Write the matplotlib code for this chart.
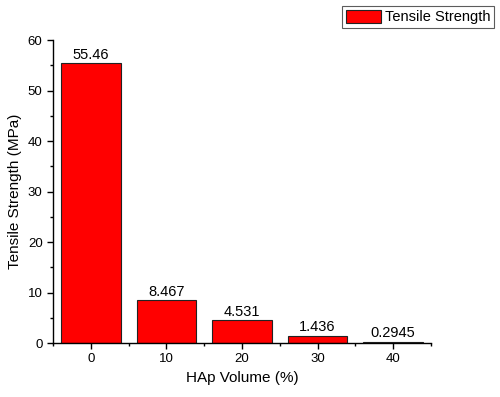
import matplotlib
matplotlib.use("Agg")
import matplotlib.pyplot as plt
from matplotlib.ticker import MultipleLocator

plt.rcParams['font.family'] = ['Liberation Sans', 'DejaVu Sans']

hap_volume = [0, 10, 20, 30, 40]
tensile_strength = [55.46, 8.467, 4.531, 1.436, 0.2945]
value_labels = ["55.46", "8.467", "4.531", "1.436", "0.2945"]

fig = plt.figure(figsize=(5, 3.97), dpi=100)
ax = fig.add_axes([0.106, 0.136, 0.756, 0.763])

bars = ax.bar(hap_volume, tensile_strength, width=7.9, color='#ff0000',
              edgecolor='#222222', linewidth=0.8, label='Tensile Strength')
for b, lab in zip(bars, value_labels):
    ax.text(b.get_x() + b.get_width() / 2, b.get_height() + 0.3, lab,
            ha='center', va='bottom', fontsize=10.5)

ax.set_xlim(-5, 45)
ax.set_ylim(0, 60)
ax.xaxis.set_major_locator(MultipleLocator(10))
ax.xaxis.set_minor_locator(MultipleLocator(5))
ax.yaxis.set_major_locator(MultipleLocator(10))
ax.yaxis.set_minor_locator(MultipleLocator(5))
ax.tick_params(which='major', direction='out', length=4, width=1, labelsize=9.5)
ax.tick_params(which='minor', direction='out', length=2.5, width=1)
for s in ['top', 'right']:
    ax.spines[s].set_visible(False)
for s in ['left', 'bottom']:
    ax.spines[s].set_linewidth(1)

ax.set_xlabel('HAp Volume (%)', fontsize=11)
ax.set_ylabel('Tensile Strength (MPa)', fontsize=11)

leg = fig.legend(handles=[bars], labels=['Tensile Strength'],
                 loc='upper left', bbox_to_anchor=(0.684, 0.985),
                 fontsize=10.5, frameon=True, fancybox=False,
                 handlelength=2.4, handleheight=1.0, borderpad=0.25,
                 handletextpad=0.3, borderaxespad=0.0)
leg.get_frame().set_edgecolor('#333333')
leg.get_frame().set_linewidth(0.8)

fig.savefig('out.png', dpi=100)
